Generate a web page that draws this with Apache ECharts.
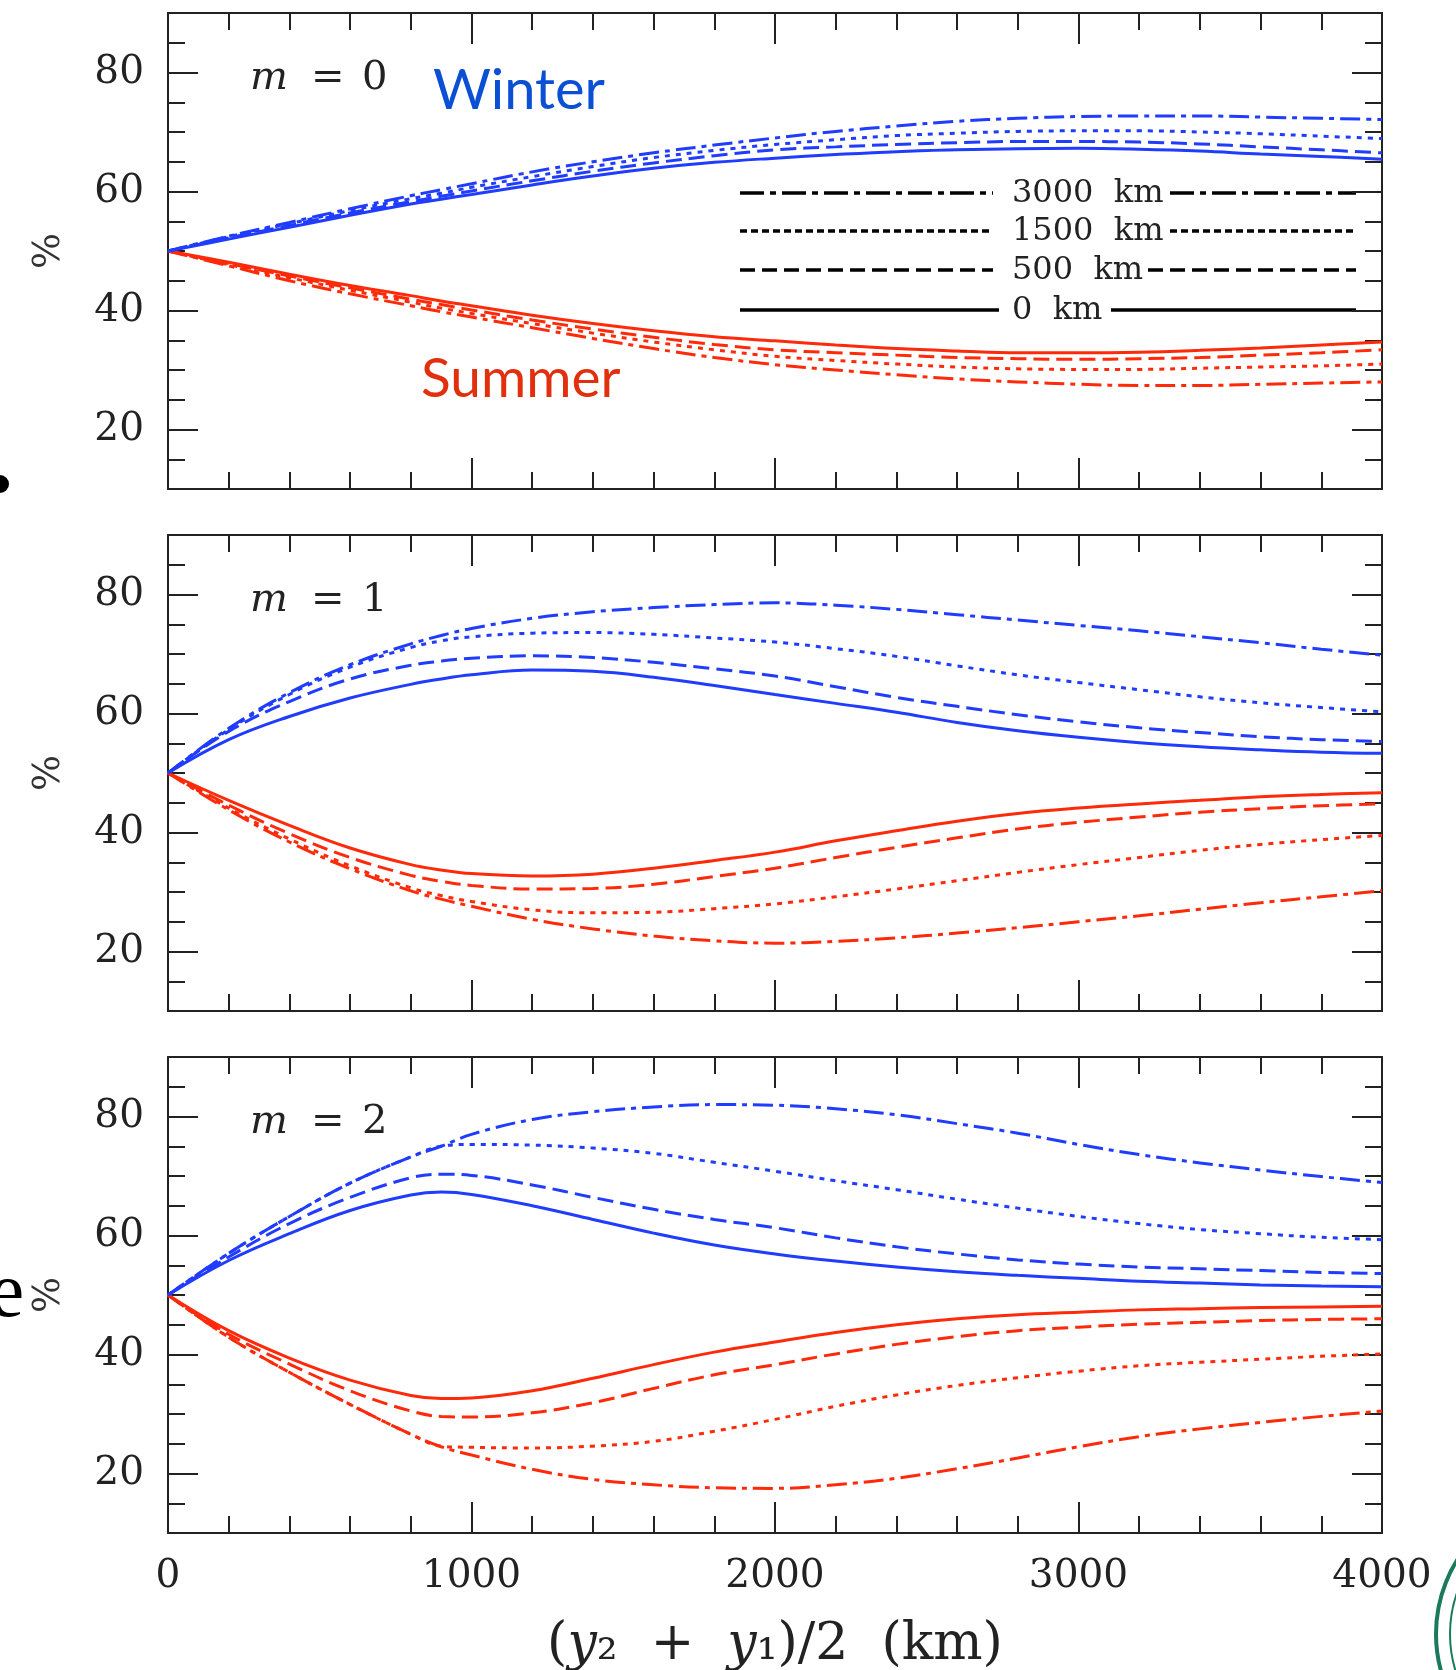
<!DOCTYPE html>
<html>
<head>
<meta charset="utf-8">
<title>Winter / Summer</title>
<script src="https://cdn.jsdelivr.net/npm/echarts@6/dist/echarts.min.js"></script>
<style>
  html, body { margin: 0; background: #fff; }
  #main { width: 1456px; height: 1670px; }
</style>
</head>
<body>
<div id="main"></div>
<script>
// x positions (km) shared by every curve
const distKm = [0, 200, 400, 600, 800, 900, 1000, 1200, 1400, 1600, 1800, 2000,
  2200, 2400, 2600, 2800, 3000, 3200, 3400, 3600, 3800, 4000];
const panelLabels = ['0', '1', '2'];            // m = ...
const heightLabels = ['3000  km', '1500  km', '500  km', '0  km'];

// m = 0
const m0Winter0 = [50, 52.0, 54.0, 56.0, 57.9, 58.7, 59.5, 61.1, 62.6, 63.9, 64.9, 65.6, 66.2, 66.7, 67.0, 67.2, 67.25, 67.1, 66.8, 66.3, 65.9, 65.4];
const m0Winter500 = [50, 52.2, 54.3, 56.4, 58.3, 59.2, 60.1, 61.8, 63.4, 64.8, 66.0, 67.0, 67.5, 67.9, 68.2, 68.4, 68.4, 68.3, 68.0, 67.5, 67.0, 66.5];
const m0Winter1500 = [50, 52.4, 54.6, 56.8, 58.8, 59.7, 60.7, 62.5, 64.2, 65.7, 66.9, 67.9, 68.7, 69.4, 69.8, 70.1, 70.2, 70.2, 70.0, 69.7, 69.3, 68.9];
const m0Winter3000 = [50, 52.5, 54.8, 57.1, 59.3, 60.3, 61.3, 63.3, 65.0, 66.5, 67.8, 69.0, 70.1, 71.0, 71.8, 72.3, 72.6, 72.7, 72.7, 72.5, 72.3, 72.1];
const m0Summer0 = [50, 48.1, 46.1, 44.2, 42.5, 41.6, 40.8, 39.2, 37.8, 36.6, 35.6, 34.9, 34.2, 33.6, 33.2, 32.9, 32.9, 33.0, 33.3, 33.7, 34.2, 34.7];
const m0Summer500 = [50, 47.9, 45.8, 43.8, 41.9, 41.0, 40.1, 38.4, 36.9, 35.5, 34.3, 33.4, 32.9, 32.5, 32.1, 31.9, 31.8, 31.9, 32.1, 32.5, 32.9, 33.4];
const m0Summer1500 = [50, 47.7, 45.5, 43.4, 41.4, 40.4, 39.5, 37.8, 36.2, 34.7, 33.4, 32.3, 31.6, 31.0, 30.5, 30.2, 30.1, 30.1, 30.3, 30.5, 30.7, 31.0];
const m0Summer3000 = [50, 47.5, 45.0, 42.8, 40.8, 39.8, 38.9, 37.1, 35.3, 33.6, 32.1, 30.9, 30.0, 29.2, 28.5, 28.0, 27.6, 27.4, 27.4, 27.6, 27.8, 28.0];

// m = 1
const m1Winter0 = [50, 55.6, 59.5, 62.6, 64.9, 65.8, 66.5, 67.3, 67.1, 66.1, 64.7, 63.2, 61.7, 60.2, 58.5, 57.1, 56.0, 55.1, 54.4, 53.9, 53.5, 53.3];
const m1Winter500 = [50, 57.0, 62.0, 65.8, 68.1, 68.8, 69.3, 69.7, 69.4, 68.6, 67.5, 66.3, 64.5, 62.7, 61.2, 59.8, 58.6, 57.6, 56.8, 56.1, 55.6, 55.3];
const m1Winter1500 = [50, 57.3, 63.2, 67.8, 71.1, 72.2, 72.9, 73.5, 73.6, 73.3, 72.7, 72.0, 70.9, 69.6, 68.0, 66.5, 65.2, 64.0, 62.8, 61.8, 61.0, 60.3];
const m1Winter3000 = [50, 57.5, 63.5, 68.2, 71.7, 73.1, 74.3, 76.0, 77.1, 77.8, 78.3, 78.6, 78.2, 77.5, 76.6, 75.7, 74.8, 73.9, 72.9, 71.9, 70.8, 69.8];
const m1Summer0 = [50, 45.4, 41.2, 37.4, 34.6, 33.7, 33.1, 32.7, 33.0, 34.0, 35.3, 36.7, 38.6, 40.3, 41.9, 43.2, 44.1, 44.8, 45.4, 46.0, 46.4, 46.7];
const m1Summer500 = [50, 44.6, 39.8, 35.8, 32.8, 31.8, 31.1, 30.5, 30.6, 31.3, 32.6, 34.0, 35.8, 37.5, 39.1, 40.6, 41.7, 42.6, 43.4, 44.0, 44.5, 44.8];
const m1Summer1500 = [50, 44.1, 38.9, 34.4, 30.7, 29.4, 28.4, 27.0, 26.5, 26.6, 27.2, 28.0, 29.2, 30.5, 31.9, 33.3, 34.6, 35.8, 37.0, 38.0, 38.8, 39.5];
const m1Summer3000 = [50, 43.8, 38.4, 33.9, 30.2, 28.8, 27.6, 25.4, 23.8, 22.6, 21.8, 21.4, 21.7, 22.3, 23.1, 24.0, 25.0, 26.0, 27.1, 28.2, 29.2, 30.2];

// m = 2
const m2Winter0 = [50, 55.8, 60.3, 64.2, 66.8, 67.3, 66.9, 65.0, 62.7, 60.4, 58.4, 56.9, 55.7, 54.7, 53.9, 53.3, 52.8, 52.3, 52.0, 51.7, 51.5, 51.4];
const m2Winter500 = [50, 56.4, 62.0, 66.4, 69.7, 70.3, 70.1, 68.5, 66.4, 64.4, 62.7, 61.3, 59.6, 58.1, 56.9, 55.9, 55.2, 54.7, 54.4, 54.1, 53.8, 53.6];
const m2Winter1500 = [50, 57.0, 63.2, 68.8, 73.2, 75.0, 75.3, 75.2, 74.7, 73.8, 72.3, 70.8, 69.2, 67.7, 66.1, 64.6, 63.2, 62.0, 61.0, 60.3, 59.7, 59.3];
const m2Winter3000 = [50, 57.0, 63.2, 68.8, 73.2, 75.0, 77.0, 79.5, 80.8, 81.6, 82.0, 81.9, 81.3, 80.3, 78.8, 77.2, 75.3, 73.6, 72.2, 71.0, 69.9, 68.9];
const m2Summer0 = [50, 44.0, 39.4, 35.7, 33.1, 32.6, 32.7, 33.9, 36.0, 38.3, 40.4, 42.1, 43.7, 45.0, 46.0, 46.7, 47.1, 47.5, 47.7, 47.9, 48.0, 48.1];
const m2Summer500 = [50, 43.4, 38.4, 33.9, 30.5, 29.6, 29.5, 30.2, 31.9, 34.3, 36.6, 38.3, 40.1, 41.7, 43.0, 44.0, 44.6, 45.1, 45.4, 45.7, 45.9, 46.0];
const m2Summer1500 = [50, 42.9, 37.0, 31.6, 26.6, 24.6, 24.4, 24.3, 24.6, 25.4, 27.1, 29.1, 31.3, 33.2, 34.8, 36.1, 37.2, 38.1, 38.7, 39.2, 39.7, 40.1];
const m2Summer3000 = [50, 42.9, 37.0, 31.6, 26.6, 24.5, 23.1, 20.7, 19.0, 18.1, 17.6, 17.5, 18.1, 19.2, 20.8, 22.6, 24.5, 26.2, 27.5, 28.6, 29.6, 30.5];

const BLUE = '#1f3cff';
const RED = '#ff2a0a';
const INK = '#222';
const SERIF = '"DejaVu Serif", serif';

// dash patterns: 3000 km, 1500 km, 500 km, 0 km
const curveDash = [[20, 6, 5, 6], [5, 6], [16, 7], 'solid'];
const legendDash = [[24, 6, 6, 6], [7, 4], [15, 7], 'solid'];

const PANEL_TOP = [13, 535, 1057];
const PANEL_H = 476;
const PLOT_LEFT = 168;
const PLOT_RIGHT = 74;

const panels = [
  { winter: [m0Winter3000, m0Winter1500, m0Winter500, m0Winter0], summer: [m0Summer3000, m0Summer1500, m0Summer500, m0Summer0] },
  { winter: [m1Winter3000, m1Winter1500, m1Winter500, m1Winter0], summer: [m1Summer3000, m1Summer1500, m1Summer500, m1Summer0] },
  { winter: [m2Winter3000, m2Winter1500, m2Winter500, m2Winter0], summer: [m2Summer3000, m2Summer1500, m2Summer500, m2Summer0] }
];

const frame = { show: true, onZero: false, lineStyle: { color: INK, width: 2 } };
const tickLine = { color: INK, width: 2 };

const grids = [], xAxes = [], yAxes = [], series = [];

// main grids 0..2: data, frame, x ticks, long y ticks and labels
panels.forEach(function (p, i) {
  grids.push({ left: PLOT_LEFT, right: PLOT_RIGHT, top: PANEL_TOP[i], height: PANEL_H, outerBoundsMode: 'none' });
  ['bottom', 'top'].forEach(function (pos) {
    const showLabel = pos === 'bottom' && i === 2;
    xAxes.push({
      gridIndex: i, type: 'value', position: pos, min: 0, max: 4000, interval: 1000,
      axisLine: frame,
      axisTick: { inside: true, length: 31, lineStyle: tickLine },
      minorTick: { show: true, splitNumber: 5, length: 17, lineStyle: tickLine },
      splitLine: { show: false },
      axisLabel: {
        show: showLabel, margin: 24, fontFamily: SERIF, fontSize: 39, color: INK,
        formatter: function (v) { return String(v); }
      },
      name: showLabel ? '({i|y}₂  +  {i|y}₁)/2  (km)' : '',
      nameLocation: 'middle', nameGap: 86,
      nameTextStyle: {
        fontFamily: SERIF, fontSize: 52, color: INK,
        rich: { i: { fontFamily: SERIF, fontSize: 52, fontStyle: 'italic', color: INK } }
      }
    });
  });
  ['left', 'right'].forEach(function (pos) {
    // auto ticks land on 20, 40, 60, 80 (plus the frame ends)
    yAxes.push({
      gridIndex: i, type: 'value', position: pos, min: 10, max: 90, splitNumber: 4,
      axisLine: frame,
      axisTick: { inside: true, length: 30, lineStyle: tickLine },
      axisLabel: {
        show: pos === 'left', margin: 24, fontFamily: SERIF, fontSize: 39, color: INK,
        formatter: function (v) { return v % 20 === 0 ? String(v) : ''; }
      },
      splitLine: { show: false },
      name: pos === 'left' ? '%' : '',
      nameLocation: 'middle', nameRotate: 90, nameGap: 100,
      nameTextStyle: { fontFamily: SERIF, fontSize: 38, color: '#333' }
    });
  });
  [['summer', RED], ['winter', BLUE]].forEach(function (s) {
    p[s[0]].forEach(function (vals, k) {
      series.push({
        type: 'line', xAxisIndex: 2 * i, yAxisIndex: 2 * i,
        name: s[0] + ' ' + heightLabels[k],
        data: distKm.map(function (x, j) { return [x, vals[j]]; }),
        showSymbol: false, symbol: 'none', smooth: 0.4, silent: true,
        lineStyle: { color: s[1], width: 3, type: curveDash[k] }
      });
    });
  });
});

// overlay grids 3..5: short y ticks every 5 on both sides
PANEL_TOP.forEach(function (top, i) {
  const g = grids.length;
  grids.push({ left: PLOT_LEFT, right: PLOT_RIGHT, top: top, height: PANEL_H, outerBoundsMode: 'none' });
  xAxes.push({ gridIndex: g, type: 'value', min: 0, max: 4000, show: false });
  ['left', 'right'].forEach(function (pos) {
    yAxes.push({
      gridIndex: g, type: 'value', position: pos, min: 10, max: 90, interval: 5,
      axisLine: { show: false },
      axisTick: { inside: true, length: 17, lineStyle: tickLine },
      axisLabel: { show: false },
      splitLine: { show: false }
    });
  });
});

// panel text, legend and slide remnants
const graphic = [];
PANEL_TOP.forEach(function (top, i) {
  const y = top + 66;
  graphic.push({ type: 'text', x: 250, y: y, style: { text: 'm', font: 'italic 40px ' + SERIF, fill: INK, verticalAlign: 'middle', textVerticalAlign: 'middle' } });
  graphic.push({ type: 'text', x: 311, y: y, style: { text: '=', font: '40px ' + SERIF, fill: INK, verticalAlign: 'middle', textVerticalAlign: 'middle' } });
  graphic.push({ type: 'text', x: 362, y: y, style: { text: panelLabels[i], font: '40px ' + SERIF, fill: INK, verticalAlign: 'middle', textVerticalAlign: 'middle' } });
});
graphic.push({ type: 'text', x: 433, y: 91, style: { text: 'Winter', font: '56px Lato, "Open Sans", sans-serif', fill: '#0a4fd4', verticalAlign: 'middle', textVerticalAlign: 'middle' } });
graphic.push({ type: 'text', x: 421, y: 379, style: { text: 'Summer', font: '55px Lato, "Open Sans", sans-serif', fill: '#e2300e', verticalAlign: 'middle', textVerticalAlign: 'middle' } });

const legendY = [193, 231, 270, 310];
const legendLeftEnd = [993, 993, 993, 999];
const legendRightStart = [1170, 1170, 1148, 1111];
legendY.forEach(function (y, k) {
  const ls = { stroke: '#000', lineWidth: 3.5, lineDash: legendDash[k] === 'solid' ? null : legendDash[k] };
  graphic.push({ type: 'line', shape: { x1: 740, y1: y, x2: legendLeftEnd[k], y2: y }, style: ls });
  graphic.push({ type: 'line', shape: { x1: legendRightStart[k], y1: y, x2: 1356, y2: y }, style: ls });
  graphic.push({ type: 'text', x: 1012, y: y + 1, style: { text: heightLabels[k], font: '32px ' + SERIF, fill: INK, verticalAlign: 'middle', textVerticalAlign: 'middle' } });
});

graphic.push({ type: 'circle', shape: { cx: 0, cy: 484, r: 9 }, style: { fill: '#000' } });
graphic.push({ type: 'text', x: 24, y: 1296, style: { text: 'e', font: '78px "Liberation Serif", serif', fill: '#000', align: 'right', textAlign: 'right', verticalAlign: 'middle', textVerticalAlign: 'middle' } });
graphic.push({ type: 'circle', shape: { cx: 1576, cy: 1634, r: 140 }, style: { fill: 'none', stroke: '#1b7a5b', lineWidth: 4 } });
graphic.push({ type: 'circle', shape: { cx: 1576, cy: 1634, r: 126 }, style: { fill: 'none', stroke: '#1b7a5b', lineWidth: 2 } });

const chart = echarts.init(document.getElementById('main'));
chart.setOption({
  animation: false,
  backgroundColor: '#fff',
  grid: grids,
  xAxis: xAxes,
  yAxis: yAxes,
  series: series,
  graphic: graphic
});
</script>
</body>
</html>
